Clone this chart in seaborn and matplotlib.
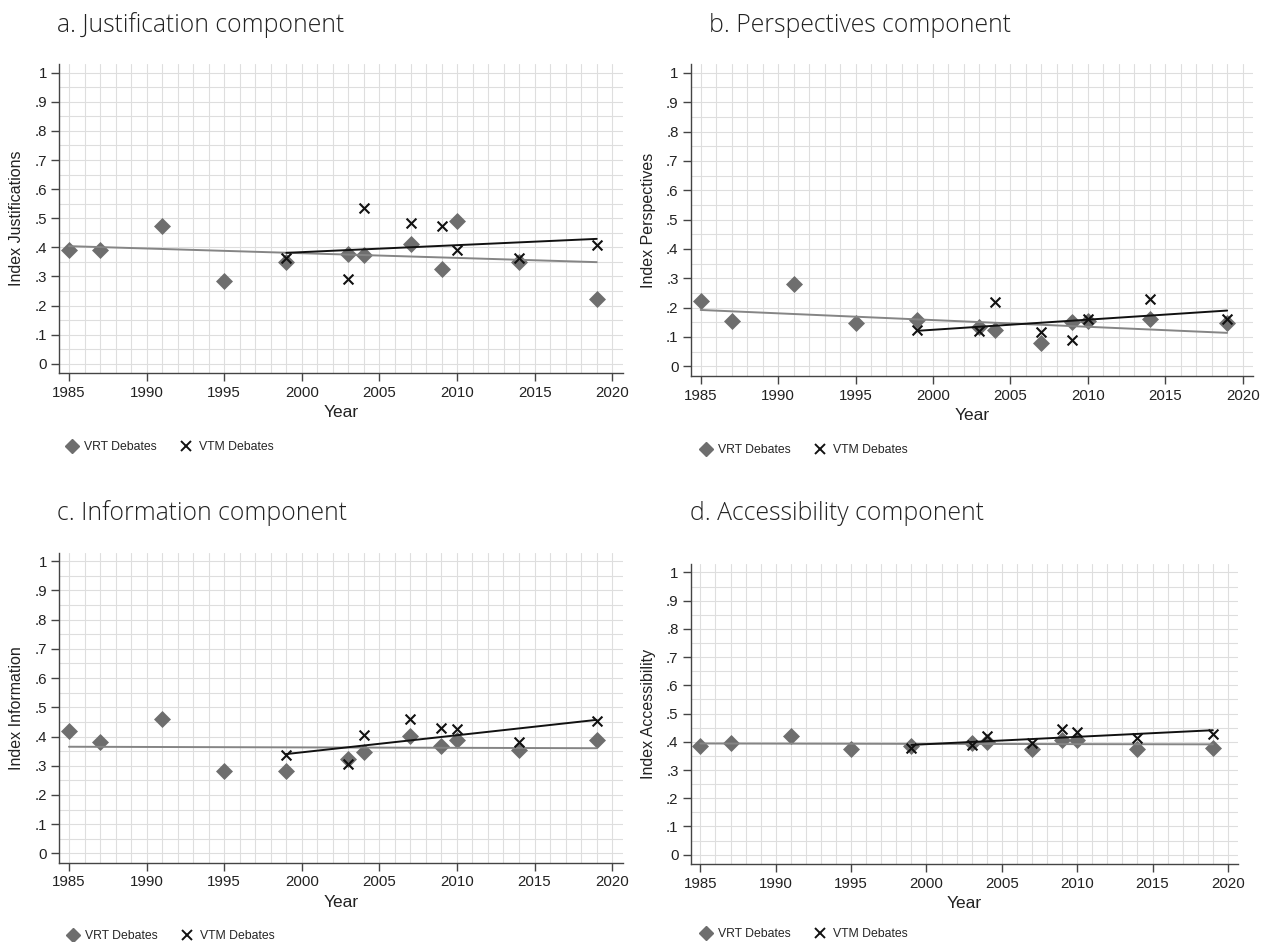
import numpy as np
import pandas as pd
import matplotlib
matplotlib.use("Agg")
import matplotlib.pyplot as plt
import seaborn as sns
from matplotlib.lines import Line2D
from matplotlib.ticker import FuncFormatter

# Debate years per broadcaster
vrt_years = [1985, 1987, 1991, 1995, 1999, 2003, 2004, 2007, 2009, 2010, 2014, 2019]
vtm_years = [1999, 2003, 2004, 2007, 2009, 2010, 2014, 2019]

# Component indices, VRT debates
justification_vrt = [0.391, 0.391, 0.474, 0.285, 0.351, 0.378, 0.373, 0.410, 0.325, 0.492, 0.348, 0.223]
perspectives_vrt = [0.221, 0.153, 0.279, 0.147, 0.157, 0.135, 0.123, 0.078, 0.151, 0.155, 0.160, 0.149]
information_vrt = [0.419, 0.381, 0.461, 0.283, 0.283, 0.323, 0.348, 0.403, 0.368, 0.387, 0.354, 0.388]
accessibility_vrt = [0.385, 0.394, 0.419, 0.374, 0.385, 0.394, 0.401, 0.376, 0.408, 0.406, 0.375, 0.378]

# Component indices, VTM debates
justification_vtm = [0.363, 0.290, 0.535, 0.482, 0.474, 0.392, 0.363, 0.408]
perspectives_vtm = [0.123, 0.120, 0.220, 0.117, 0.090, 0.160, 0.229, 0.160]
information_vtm = [0.336, 0.306, 0.404, 0.461, 0.429, 0.426, 0.380, 0.452]
accessibility_vtm = [0.379, 0.389, 0.420, 0.396, 0.447, 0.434, 0.412, 0.427]

# Linear fit lines (start and end of each fitted range)
vrt_fit_years = [1985, 2019]
vtm_fit_years = [1999, 2019]
justification_vrt_fit = [0.404, 0.349]
justification_vtm_fit = [0.381, 0.429]
perspectives_vrt_fit = [0.192, 0.114]
perspectives_vtm_fit = [0.121, 0.190]
information_vrt_fit = [0.365, 0.360]
information_vtm_fit = [0.340, 0.457]
accessibility_vrt_fit = [0.394, 0.391]
accessibility_vtm_fit = [0.389, 0.441]

titles = ["a. Justification component", "b. Perspectives component",
          "c. Information component", "d. Accessibility component"]
ylabels = ["Index Justifications", "Index Perspectives",
           "Index Information", "Index Accessibility"]
series_labels = ["VRT Debates", "VTM Debates"]

sns.set_theme(style="white")
plt.rcParams["font.family"] = ["Liberation Sans", "DejaVu Sans"]

W, H = 1264, 942
fig = plt.figure(figsize=(W / 100, H / 100), dpi=100)
fig.patch.set_facecolor("white")

# axes boxes in pixels: left, top, right, bottom
boxes = [(59.3, 64, 622.7, 373.3), (691, 64, 1253, 376),
         (59.3, 552.5, 622.5, 863), (691, 564, 1238, 864)]
title_pos = [(57, 25), (709, 25), (57, 513), (690, 513)]
legend_pos = [(66, 447), (700, 450), (67, 936), (700, 934)]

vrt_col = "#6e6e6e"
vrt_fit_col = "#858585"
vtm_col = "#111111"

panels = [
    (justification_vrt, justification_vtm, justification_vrt_fit, justification_vtm_fit),
    (perspectives_vrt, perspectives_vtm, perspectives_vrt_fit, perspectives_vtm_fit),
    (information_vrt, information_vtm, information_vrt_fit, information_vtm_fit),
    (accessibility_vrt, accessibility_vtm, accessibility_vrt_fit, accessibility_vtm_fit),
]

handles = [
    Line2D([], [], ls="none", marker="D", color=vrt_col, markersize=7.5),
    Line2D([], [], ls="none", marker="x", color=vtm_col, markersize=7, markeredgewidth=1.4),
]

for i, (vrt, vtm, vrt_fit, vtm_fit) in enumerate(panels):
    l, t, r, b = boxes[i]
    ax = fig.add_axes([l / W, 1 - b / H, (r - l) / W, (b - t) / H])
    ax.set_facecolor("white")

    df_vrt = pd.DataFrame({"Year": vrt_years, "Index": vrt})
    df_vtm = pd.DataFrame({"Year": vtm_years, "Index": vtm})
    fit_vrt = pd.DataFrame({"Year": vrt_fit_years, "Index": vrt_fit})
    fit_vtm = pd.DataFrame({"Year": vtm_fit_years, "Index": vtm_fit})

    sns.scatterplot(data=df_vrt, x="Year", y="Index", ax=ax, marker="D",
                    color=vrt_col, s=75, linewidth=0, zorder=3)
    sns.lineplot(data=fit_vrt, x="Year", y="Index", ax=ax, color=vrt_fit_col,
                 lw=1.4, zorder=4)
    sns.lineplot(data=fit_vtm, x="Year", y="Index", ax=ax, color=vtm_col,
                 lw=1.4, zorder=4)
    sns.scatterplot(data=df_vtm, x="Year", y="Index", ax=ax, marker="x",
                    color=vtm_col, s=50, linewidth=1.5, zorder=5)

    ax.set_xlim(1984.375, 2020.67)
    ax.set_ylim(-0.033, 1.03)
    ax.set_xticks(range(1985, 2021, 5))
    ax.set_yticks(np.round(np.arange(0, 1.01, 0.1), 1))
    ax.set_xticks(range(1985, 2021), minor=True)
    ax.set_yticks(np.arange(0, 1.001, 0.05), minor=True)
    ax.yaxis.set_major_formatter(FuncFormatter(
        lambda v, p: "0" if abs(v) < 1e-9 else ("1" if abs(v - 1) < 1e-9 else f"{v:.1f}".lstrip("0"))))
    ax.grid(which="both", color="#dedede", lw=0.8)
    ax.set_axisbelow(True)
    ax.tick_params(which="major", direction="out", length=6, width=1, color="#444444",
                   labelsize=10.8, labelcolor="#222222", pad=3, left=True, bottom=True)
    ax.tick_params(which="minor", length=0)
    for side in ["top", "right"]:
        ax.spines[side].set_visible(False)
    for side in ["left", "bottom"]:
        ax.spines[side].set_color("#444444")
        ax.spines[side].set_linewidth(1.0)

    ax.set_xlabel("Year", fontsize=12.5, color="#222222", labelpad=4)
    ax.set_ylabel(ylabels[i], fontsize=11.5, color="#222222", labelpad=7)

    tx, ty = title_pos[i]
    fig.text(tx / W, 1 - ty / H, titles[i], ha="left", va="center", fontsize=17.8,
             family=["Open Sans", "DejaVu Sans"], fontweight="light", color="#222222")

    lx, ly = legend_pos[i]
    fig.legend(handles, series_labels, loc="center left",
               bbox_to_anchor=(lx / W, 1 - ly / H), ncol=2, frameon=False,
               fontsize=8.8, handlelength=1.0, handletextpad=0.5,
               columnspacing=1.9, borderpad=0, borderaxespad=0)

fig.savefig("out.png", dpi=100, facecolor="white")
